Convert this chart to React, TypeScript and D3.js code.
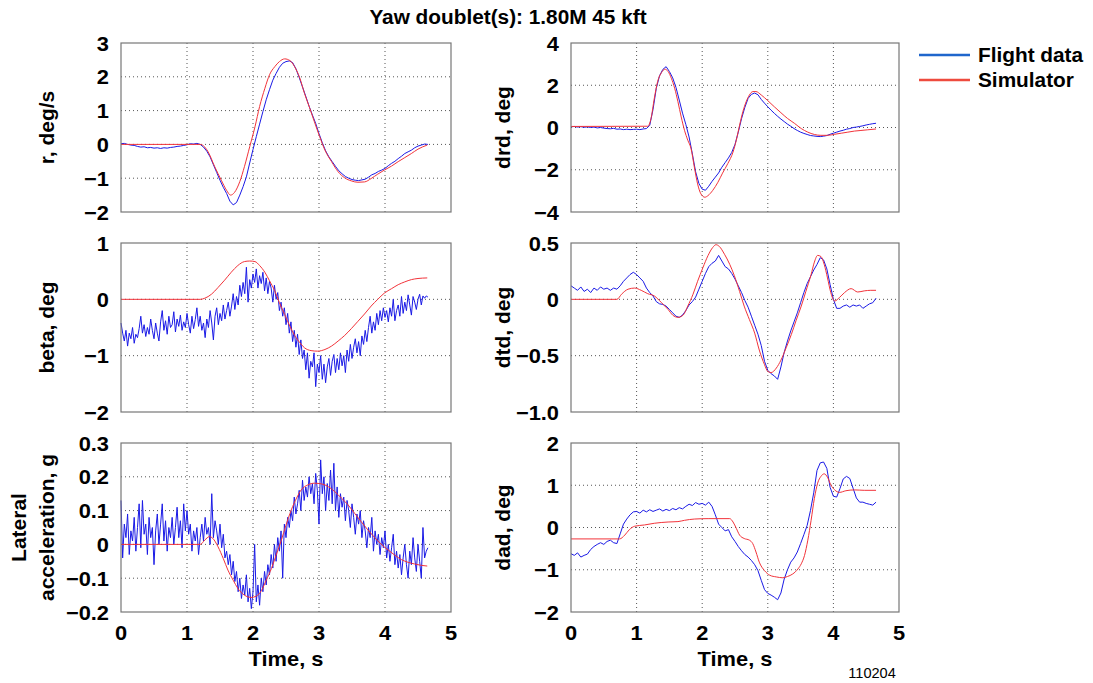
import React from 'react';
import * as d3 from 'd3';

// ---- Time grids (s) ----
const FLIGHT_STEP = 0.05;
const NOISY_STEP = 0.025;
const X_TICKS = [0, 1, 2, 3, 4, 5];

// ---- Flight data (blue), sampled every 0.05 s ----
const flightR = [
  0.02, 0.03, 0.0, -0.02, -0.03, -0.06, -0.08, -0.07, -0.1, -0.09,
  -0.11, -0.1, -0.12, -0.1, -0.11, -0.09, -0.08, -0.06, -0.05, -0.03,
  -0.01, 0.02, 0.01, 0.03, 0.0, -0.08, -0.2, -0.37, -0.6, -0.83,
  -1.06, -1.27, -1.45, -1.68, -1.79, -1.72, -1.5, -1.25, -0.96, -0.55,
  -0.15, 0.23, 0.6, 0.97, 1.32, 1.62, 1.9, 2.1, 2.28, 2.4,
  2.45, 2.47, 2.42, 2.24, 1.98, 1.7, 1.42, 1.13, 0.87, 0.62,
  0.32, 0.05, -0.19, -0.37, -0.51, -0.65, -0.78, -0.87, -0.95, -1.0,
  -1.04, -1.06, -1.07, -1.05, -1.03, -0.97, -0.9, -0.86, -0.8, -0.76,
  -0.71, -0.63, -0.56, -0.5, -0.42, -0.35, -0.27, -0.22, -0.17, -0.1,
  -0.05, -0.02, 0.01, 0.0,
];

const flightDrd = [
  0.03, 0.05, 0.02, 0.04, 0.01, 0.03, 0.0, 0.02, -0.02, 0.0,
  -0.03, -0.05, -0.06, -0.04, -0.08, -0.07, -0.1, -0.08, -0.1, -0.09,
  -0.08, -0.1, -0.07, -0.05, 0.1, 0.85, 1.85, 2.45, 2.75, 2.88,
  2.65, 2.35, 1.9, 1.3, 0.68, 0.15, -0.45, -1.25, -2.1, -2.65,
  -2.92, -2.97, -2.78, -2.55, -2.35, -2.15, -1.88, -1.66, -1.44, -1.18,
  -0.8, -0.22, 0.42, 0.95, 1.38, 1.57, 1.63, 1.55, 1.33, 1.15,
  0.98, 0.82, 0.67, 0.53, 0.4, 0.28, 0.16, 0.06, -0.05, -0.14,
  -0.22, -0.28, -0.33, -0.38, -0.4, -0.42, -0.43, -0.41, -0.38, -0.32,
  -0.27, -0.22, -0.17, -0.13, -0.08, -0.05, 0.0, 0.02, 0.05, 0.08,
  0.12, 0.15, 0.18, 0.2,
];

const flightDtd = [
  0.12, 0.1, 0.08, 0.11, 0.07, 0.09, 0.06, 0.1, 0.08, 0.11,
  0.09, 0.1, 0.08, 0.1, 0.09, 0.12, 0.16, 0.19, 0.22, 0.24,
  0.22, 0.19, 0.16, 0.1, 0.06, 0.03, -0.02, -0.04, -0.045, -0.06,
  -0.09, -0.12, -0.15, -0.16, -0.14, -0.1, -0.05, -0.02, 0.02, 0.09,
  0.16, 0.23, 0.29, 0.32, 0.34, 0.39, 0.34, 0.29, 0.27, 0.23,
  0.18, 0.12, 0.06, -0.01, -0.07, -0.15, -0.23, -0.31, -0.41, -0.55,
  -0.63, -0.66, -0.68, -0.71, -0.6, -0.47, -0.37, -0.28, -0.2, -0.12,
  -0.03, 0.06, 0.14, 0.2, 0.26, 0.31, 0.37, 0.35, 0.27, 0.13,
  0.0, -0.08, -0.08, -0.06, -0.05, -0.07, -0.05, -0.06, -0.05, -0.08,
  -0.06, -0.04, -0.03, 0.01,
];

const flightDad = [
  -0.62, -0.66, -0.6, -0.7, -0.66, -0.63, -0.52, -0.45, -0.4, -0.36,
  -0.4, -0.33, -0.3, -0.36, -0.38, -0.15, 0.08, 0.2, 0.3, 0.37,
  0.38, 0.34, 0.41, 0.37, 0.42, 0.38, 0.41, 0.44, 0.39, 0.43,
  0.4, 0.45, 0.42, 0.47, 0.44, 0.5, 0.55, 0.52, 0.59, 0.55,
  0.57, 0.53, 0.6, 0.5, 0.3, 0.08, 0.0, -0.08, -0.05, -0.22,
  -0.33, -0.45, -0.55, -0.64, -0.7, -0.78, -0.88, -1.02, -1.25, -1.47,
  -1.56, -1.6, -1.65, -1.71, -1.55, -1.22, -1.0, -0.82, -0.72, -0.58,
  -0.38, -0.17, 0.05, 0.4, 0.82, 1.35, 1.53, 1.55, 1.4, 0.95,
  0.74, 0.72, 0.92, 1.15, 1.21, 1.16, 0.93, 0.7, 0.6, 0.6,
  0.57, 0.55, 0.53, 0.6,
];

// ---- Noisy flight data (blue), sampled every 0.025 s ----
const flightBeta = [
  -0.42, -0.6, -0.74, -0.55, -0.83, -0.6, -0.7, -0.5,
  -0.78, -0.62, -0.68, -0.52, -0.3, -0.6, -0.45, -0.66,
  -0.5, -0.62, -0.35, -0.55, -0.7, -0.42, -0.6, -0.74,
  -0.4, -0.2, -0.55, -0.38, -0.62, -0.3, -0.5, -0.45,
  -0.22, -0.58, -0.35, -0.48, -0.28, -0.55, -0.4, -0.5,
  -0.25, -0.45, -0.6, -0.3, -0.52, -0.36, -0.15, -0.48,
  -0.3, -0.55, -0.42, -0.68, -0.35, -0.5, -0.2, -0.42,
  -0.72, -0.3, -0.15, -0.45, -0.25, -0.38, -0.1, -0.35,
  -0.2, -0.05, -0.3, -0.12, 0.1, -0.18, 0.05, -0.1,
  0.25, 0.05, 0.3, 0.1, 0.57, -0.05, 0.35, 0.2,
  0.45, 0.3, 0.54, 0.2, 0.42, 0.28, 0.48, 0.15,
  0.38, 0.1, 0.32, 0.2, -0.05, 0.25, 0.0, 0.12,
  -0.2, -0.05, -0.3, -0.15, -0.45, -0.25, -0.6, -0.4,
  -0.75, -0.55, -0.85, -0.62, -0.98, -0.72, -1.05, -0.9,
  -1.25, -0.95, -1.4, -1.1, -1.2, -0.95, -1.55, -1.15,
  -1.3, -1.0, -1.42, -1.15, -1.48, -1.2, -1.05, -1.35,
  -1.1, -0.98, -1.3, -1.05, -1.25, -0.95, -1.18, -1.0,
  -1.3, -0.9, -1.1, -0.8, -1.05, -0.85, -0.7, -0.95,
  -0.75, -1.0, -0.65, -0.8, -0.55, -0.75, -0.5, -0.3,
  -0.6, -0.4, -0.55, -0.25, -0.45, -0.2, -0.38, -0.15,
  -0.32, -0.2, -0.4, -0.15, -0.3, 0.0, -0.38, -0.2,
  -0.1, -0.3, 0.05, -0.25, -0.05, -0.2, 0.08, -0.1,
  -0.28, 0.05, -0.05, -0.18, 0.0, 0.09, -0.1, 0.06,
  0.02, 0.06, 0.04,
];

const flightAy = [
  0.13, -0.04, 0.06, 0.02, 0.09, -0.03, 0.04, 0.01,
  0.08, -0.02, 0.05, 0.12, -0.01, 0.13, 0.03, 0.06,
  -0.03, 0.08, 0.02, 0.05, -0.06, 0.04, 0.09, 0.0,
  0.06, 0.12, 0.01, 0.07, -0.02, 0.05, 0.02, 0.08,
  0.0, 0.05, 0.11, 0.02, 0.07, -0.01, 0.12, 0.04,
  0.1, 0.03, 0.06, -0.02, 0.04, 0.01, 0.05, -0.03,
  0.02, 0.06, 0.01, 0.08, 0.03, 0.05, 0.0, 0.15,
  0.02, 0.07, 0.04, 0.0, 0.06, -0.01, 0.03, -0.04,
  -0.02, -0.06, -0.03, -0.09, -0.05, -0.11, -0.08, -0.14,
  -0.1, -0.16, -0.12, -0.15, -0.09, -0.17, -0.13, -0.19,
  -0.14, 0.0, -0.17, -0.12, -0.18, -0.1, -0.14, -0.08,
  -0.12, -0.06, -0.09, -0.03, -0.07, 0.0, -0.05, 0.02,
  -0.02, 0.04, -0.1, 0.06, 0.02, 0.08, 0.05, 0.1,
  0.07, 0.14, 0.09, 0.12, 0.16, 0.1, 0.19, 0.13,
  0.17, 0.14, 0.2, 0.15, 0.18, 0.12, 0.21, 0.16,
  0.06, 0.25, 0.15, 0.2, 0.1, 0.18, 0.13, 0.22,
  0.12, 0.24, 0.1, 0.17, 0.08, 0.15, 0.11, 0.14,
  0.07, 0.13, 0.1, 0.05, 0.12, 0.08, 0.03, 0.09,
  0.06, 0.1, 0.02, 0.07, 0.04, -0.01, 0.05, 0.02,
  0.08, -0.02, 0.04, 0.0, 0.03, -0.03, 0.02, -0.01,
  0.04, -0.04, 0.0, -0.05, -0.01, 0.03, -0.06, -0.02,
  -0.07, -0.03, -0.09, -0.04, 0.0, -0.06, -0.1, -0.02,
  -0.06, 0.02, -0.04, -0.08, 0.0, -0.05, -0.1, 0.05,
  -0.04, -0.02, -0.01,
];

// ---- Simulator (red): [time s, value] knots ----
type Pt = [number, number];

const simR: Pt[] = [
  [0, 0], [1.2, 0], [1.27, -0.08], [1.32, -0.22], [1.42, -0.66], [1.52, -1.06], [1.6, -1.36],
  [1.66, -1.5], [1.72, -1.42], [1.8, -1.1], [1.87, -0.66], [1.95, -0.07], [2.03, 0.52],
  [2.1, 1.12], [2.18, 1.66], [2.25, 2.06], [2.33, 2.3], [2.4, 2.45], [2.48, 2.53], [2.56, 2.48],
  [2.63, 2.3], [2.71, 1.96], [2.78, 1.51], [2.86, 1.07], [2.93, 0.67], [3.01, 0.23], [3.09, -0.17],
  [3.19, -0.51], [3.29, -0.81], [3.39, -0.99], [3.49, -1.08], [3.59, -1.12], [3.69, -1.11],
  [3.79, -1.01], [3.89, -0.88], [3.99, -0.76], [4.1, -0.64], [4.2, -0.51], [4.3, -0.39],
  [4.4, -0.27], [4.5, -0.14], [4.64, -0.02],
];

const simDrd: Pt[] = [
  [0, 0.05], [1.17, 0.06], [1.22, 0.43], [1.27, 1.38], [1.32, 2.17], [1.38, 2.6], [1.43, 2.76],
  [1.48, 2.65], [1.53, 2.33], [1.58, 1.86], [1.63, 1.22], [1.68, 0.5], [1.73, -0.13], [1.78, -0.6],
  [1.83, -1.0], [1.88, -1.87], [1.93, -2.67], [1.98, -3.14], [2.04, -3.3], [2.09, -3.22],
  [2.16, -2.98], [2.24, -2.59], [2.31, -2.16], [2.39, -1.71], [2.47, -1.16], [2.52, -0.6],
  [2.57, 0.11], [2.62, 0.75], [2.67, 1.22], [2.72, 1.54], [2.77, 1.7], [2.82, 1.7], [2.9, 1.54],
  [3.0, 1.27], [3.1, 0.98], [3.2, 0.7], [3.3, 0.43], [3.41, 0.19], [3.51, -0.05], [3.61, -0.22],
  [3.71, -0.33], [3.81, -0.37], [3.91, -0.37], [4.02, -0.32], [4.12, -0.27], [4.22, -0.22],
  [4.32, -0.17], [4.42, -0.14], [4.52, -0.11], [4.65, -0.07],
];

const simBeta: Pt[] = [
  [0, 0], [1.2, 0], [1.27, 0.02], [1.37, 0.09], [1.47, 0.21], [1.57, 0.34], [1.67, 0.48],
  [1.77, 0.6], [1.87, 0.67], [1.95, 0.68], [2.03, 0.67], [2.1, 0.6], [2.18, 0.48], [2.25, 0.33],
  [2.33, 0.15], [2.4, -0.06], [2.48, -0.27], [2.56, -0.48], [2.63, -0.64], [2.71, -0.77],
  [2.78, -0.86], [2.88, -0.91], [2.98, -0.92], [3.09, -0.89], [3.19, -0.83], [3.29, -0.74],
  [3.39, -0.64], [3.49, -0.52], [3.59, -0.39], [3.69, -0.26], [3.79, -0.12], [3.89, 0.0],
  [3.99, 0.11], [4.1, 0.19], [4.2, 0.26], [4.3, 0.31], [4.4, 0.35], [4.5, 0.37], [4.64, 0.38],
];

const simDtd: Pt[] = [
  [0, 0], [0.7, 0], [0.77, 0.045], [0.87, 0.09], [0.97, 0.1], [1.07, 0.08], [1.17, 0.05],
  [1.27, 0.03], [1.38, -0.03], [1.48, -0.09], [1.55, -0.14], [1.63, -0.16], [1.71, -0.14],
  [1.78, -0.06], [1.86, 0.045], [1.93, 0.16], [2.01, 0.28], [2.09, 0.39], [2.16, 0.46],
  [2.21, 0.485], [2.26, 0.47], [2.34, 0.4], [2.42, 0.31], [2.49, 0.21], [2.57, 0.07],
  [2.64, -0.06], [2.72, -0.18], [2.8, -0.3], [2.87, -0.45], [2.95, -0.58], [3.0, -0.64],
  [3.05, -0.65], [3.13, -0.61], [3.2, -0.54], [3.28, -0.43], [3.36, -0.31], [3.43, -0.19],
  [3.51, -0.06], [3.58, 0.07], [3.66, 0.22], [3.71, 0.33], [3.76, 0.39], [3.81, 0.38],
  [3.86, 0.31], [3.91, 0.19], [3.96, 0.06], [4.02, -0.015], [4.09, 0.015], [4.17, 0.06],
  [4.27, 0.095], [4.37, 0.065], [4.47, 0.075], [4.57, 0.08], [4.65, 0.08],
];

const simAy: Pt[] = [
  [0, 0], [1.2, 0], [1.27, 0.013], [1.34, 0.023], [1.39, 0.018], [1.47, -0.007], [1.55, -0.042],
  [1.62, -0.076], [1.7, -0.106], [1.77, -0.13], [1.87, -0.15], [1.97, -0.157], [2.05, -0.153],
  [2.13, -0.136], [2.2, -0.106], [2.28, -0.071], [2.35, -0.032], [2.43, 0.013], [2.5, 0.057],
  [2.58, 0.102], [2.66, 0.137], [2.73, 0.161], [2.83, 0.176], [2.93, 0.181], [3.04, 0.179],
  [3.14, 0.171], [3.24, 0.156], [3.34, 0.137], [3.44, 0.117], [3.54, 0.092], [3.64, 0.067],
  [3.74, 0.043], [3.84, 0.021], [3.94, 0.001], [4.05, -0.017], [4.15, -0.032], [4.25, -0.045],
  [4.35, -0.053], [4.45, -0.058], [4.55, -0.062], [4.64, -0.064],
];

const simDad: Pt[] = [
  [0, -0.27], [0.74, -0.27], [0.82, -0.18], [0.89, -0.05], [0.97, 0.03], [1.12, 0.06],
  [1.27, 0.1], [1.48, 0.13], [1.63, 0.14], [1.73, 0.17], [1.88, 0.2], [2.09, 0.21], [2.42, 0.21],
  [2.47, 0.13], [2.52, -0.02], [2.57, -0.18], [2.64, -0.26], [2.72, -0.3], [2.77, -0.38],
  [2.82, -0.58], [2.87, -0.82], [2.95, -1.02], [3.03, -1.13], [3.13, -1.17], [3.23, -1.19],
  [3.3, -1.16], [3.38, -1.1], [3.46, -0.98], [3.51, -0.86], [3.56, -0.66], [3.61, -0.3],
  [3.66, 0.17], [3.71, 0.69], [3.76, 1.05], [3.81, 1.21], [3.86, 1.27], [3.91, 1.19],
  [3.96, 1.01], [4.02, 0.89], [4.09, 0.83], [4.19, 0.87], [4.32, 0.89], [4.47, 0.88], [4.65, 0.88],
];

// ---- Y-axis ticks per panel ----
const ticksR = [-2, -1, 0, 1, 2, 3];
const ticksDrd = [-4, -2, 0, 2, 4];
const ticksBeta = [-2, -1, 0, 1];
const ticksDtd = [-1, -0.5, 0, 0.5];
const labelsDtd = ['−1.0', '−0.5', '0', '0.5'];
const ticksAy = [-0.2, -0.1, 0, 0.1, 0.2, 0.3];
const ticksDad = [-2, -1, 0, 1, 2];

const TITLE = 'Yaw doublet(s): 1.80M 45 kft';
const LEGEND = ['Flight data', 'Simulator'];
const X_LABEL = 'Time, s';
const FIG_ID = '110204';

// ---- Layout ----
const W = 1093;
const H = 683;
const COLS: [number, number][] = [[121, 451], [571, 899]];
const ROWS: [number, number][] = [[43, 212], [243, 412], [443, 612]];
const FONT = '"Liberation Sans", Arial, Helvetica, sans-serif';
const FS = 21; // main bold text size
const HS = 1.04; // slight horizontal widening of the lettering
const BLUE = '#1a1ae6';
const RED = '#f2333a';
const LEG_BLUE = '#1f66cc';
const LEG_RED = '#ee4b3e';

const fmt = (v: number) => (v < 0 ? '−' + String(Math.abs(v)) : String(v));

type TxtProps = {
  x: number;
  y: number;
  anchor?: 'start' | 'middle' | 'end';
  size?: number;
  bold?: boolean;
  children: React.ReactNode;
};

function Txt({ x, y, anchor = 'start', size = FS, bold = true, children }: TxtProps) {
  return (
    <text
      transform={`translate(${x},${y}) scale(${HS},1)`}
      dy="0.36em"
      textAnchor={anchor}
      fontSize={size}
      fontWeight={bold ? 'bold' : 'normal'}
      fontFamily={FONT}
      fill="#000"
    >
      {children}
    </text>
  );
}

type PanelSpec = {
  col: number;
  row: number;
  domain: [number, number];
  ticks: number[];
  tickLabels?: string[];
  label: string[];
  flight: number[];
  step: number;
  sim: Pt[];
};

const panels: PanelSpec[] = [
  { col: 0, row: 0, domain: [-2, 3], ticks: ticksR, label: ['r, deg/s'], flight: flightR, step: FLIGHT_STEP, sim: simR },
  { col: 1, row: 0, domain: [-4, 4], ticks: ticksDrd, label: ['drd, deg'], flight: flightDrd, step: FLIGHT_STEP, sim: simDrd },
  { col: 0, row: 1, domain: [-2, 1], ticks: ticksBeta, label: ['beta, deg'], flight: flightBeta, step: NOISY_STEP, sim: simBeta },
  { col: 1, row: 1, domain: [-1, 0.5], ticks: ticksDtd, tickLabels: labelsDtd, label: ['dtd, deg'], flight: flightDtd, step: FLIGHT_STEP, sim: simDtd },
  { col: 0, row: 2, domain: [-0.2, 0.3], ticks: ticksAy, label: ['Lateral', 'acceleration, g'], flight: flightAy, step: NOISY_STEP, sim: simAy },
  { col: 1, row: 2, domain: [-2, 2], ticks: ticksDad, label: ['dad, deg'], flight: flightDad, step: FLIGHT_STEP, sim: simDad },
];

function Panel({ p }: { p: PanelSpec }) {
  const [x0, x1] = COLS[p.col];
  const [y0, y1] = ROWS[p.row];
  const x = d3.scaleLinear().domain([0, 5]).range([x0, x1]);
  const y = d3.scaleLinear().domain(p.domain).range([y1, y0]);
  const flightLine = d3
    .line<number>()
    .x((_, i) => x(i * p.step))
    .y((d) => y(d));
  const simLine = d3
    .line<Pt>()
    .x((d) => x(d[0]))
    .y((d) => y(d[1]))
    .curve(d3.curveMonotoneX);
  const yc = (y0 + y1) / 2;
  const labelX = p.col === 0 ? (p.label.length > 1 ? [18, 46] : [46]) : [502];
  return (
    <g>
      <rect x={x0} y={y0} width={x1 - x0} height={y1 - y0} fill="#fff" />
      {X_TICKS.slice(1, -1).map((t) => (
        <line key={'gx' + t} x1={x(t)} x2={x(t)} y1={y0} y2={y1} stroke="#555" strokeWidth={1} strokeDasharray="1 3" />
      ))}
      {p.ticks.slice(1, -1).map((t) => (
        <line key={'gy' + t} x1={x0} x2={x1} y1={y(t)} y2={y(t)} stroke="#555" strokeWidth={1} strokeDasharray="1 3" />
      ))}
      <path d={flightLine(p.flight) || ''} fill="none" stroke={BLUE} strokeWidth={1} />
      <path d={simLine(p.sim) || ''} fill="none" stroke={RED} strokeWidth={1} />
      <rect x={x0} y={y0} width={x1 - x0} height={y1 - y0} fill="none" stroke="#777" strokeWidth={1.2} />
      {p.ticks.map((t, i) => (
        <Txt key={'ty' + t} x={x0 - 12} y={y(t)} anchor="end">
          {p.tickLabels ? p.tickLabels[i] : fmt(t)}
        </Txt>
      ))}
      {p.row === 2 &&
        X_TICKS.map((t) => (
          <Txt key={'tx' + t} x={x(t)} y={632} anchor="middle">
            {t}
          </Txt>
        ))}
      {p.row === 2 && (
        <Txt x={(x0 + x1) / 2} y={658} anchor="middle">
          {X_LABEL}
        </Txt>
      )}
      {p.label.map((s, i) => (
        <text
          key={'yl' + i}
          transform={`translate(${labelX[i]},${yc}) rotate(-90)`}
          dy="0.36em"
          textAnchor="middle"
          fontSize={FS}
          fontWeight="bold"
          fontFamily={FONT}
        >
          {s}
        </text>
      ))}
    </g>
  );
}

export default function App() {
  return (
    <svg
      width={W}
      height={H}
      viewBox={`0 0 ${W} ${H}`}
      style={{ position: 'absolute', left: 0, top: 0, background: '#fff' }}
    >
      <rect x={0} y={0} width={W} height={H} fill="#fff" />
      <Txt x={508} y={17} anchor="middle" size={20}>
        {TITLE}
      </Txt>
      {panels.map((p, i) => (
        <Panel key={i} p={p} />
      ))}
      {/* legend */}
      <line x1={919} x2={970} y1={55} y2={55} stroke={LEG_BLUE} strokeWidth={2.5} />
      <line x1={919} x2={970} y1={80} y2={80} stroke={LEG_RED} strokeWidth={2.5} />
      <Txt x={978} y={55} size={20}>
        {LEGEND[0]}
      </Txt>
      <Txt x={978} y={80} size={20}>
        {LEGEND[1]}
      </Txt>
      <Txt x={872} y={673} anchor="middle" size={14} bold={false}>
        {FIG_ID}
      </Txt>
    </svg>
  );
}
